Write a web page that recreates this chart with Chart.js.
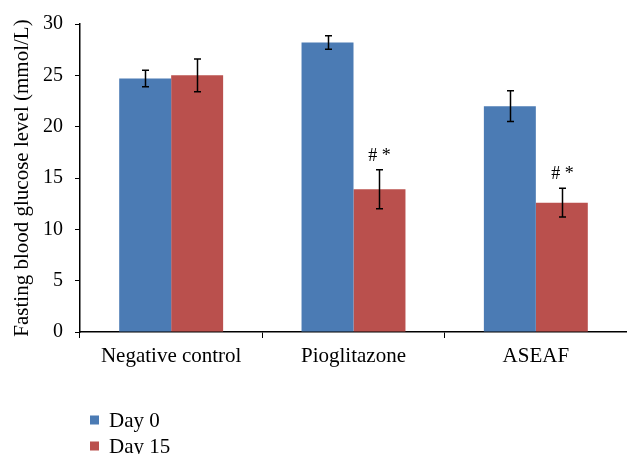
<!DOCTYPE html>
<html><head><meta charset="utf-8">
<script src="https://cdn.jsdelivr.net/npm/chart.js@4/dist/chart.umd.min.js"></script>
<style>html,body{margin:0;padding:0;background:#fff;}#wrap{width:627px;height:454px;}</style>
</head><body><div id="wrap"><canvas id="c" width="627" height="454"></canvas></div>
<script>
const categories = ['Negative control', 'Pioglitazone', 'ASEAF'];
const seriesNames = ['Day 0', 'Day 15'];
const day0 = [24.7, 28.2, 22.0];
const day15 = [25.0, 13.9, 12.6];
const day0Err = [0.8, 0.65, 1.5];
const day15Err = [1.6, 1.9, 1.4];
const day15Marks = ['', '# *', '# *'];
const yTicks = [0, 5, 10, 15, 20, 25, 30];
const colors = ['#4B7BB4', '#BA504D'];
const serif = "'Liberation Serif', 'DejaVu Serif', serif";

const errors = [day0Err, day15Err];
const marks = [['', '', ''], day15Marks];

const extras = {
  id: 'extras',
  afterDatasetsDraw(chart) {
    const ctx = chart.ctx;
    const y = chart.scales.y;
    ctx.save();
    chart.data.datasets.forEach((ds, di) => {
      const meta = chart.getDatasetMeta(di);
      meta.data.forEach((bar, i) => {
        const v = ds.data[i], e = errors[di][i];
        const x = Math.round(bar.x) + 0.5;
        const yt = y.getPixelForValue(v + e), yb = y.getPixelForValue(v - e);
        ctx.strokeStyle = '#000';
        ctx.lineWidth = 1.5;
        ctx.beginPath();
        ctx.moveTo(x, yt); ctx.lineTo(x, yb);
        ctx.moveTo(x - 3.5, yt); ctx.lineTo(x + 3.5, yt);
        ctx.moveTo(x - 3.5, yb); ctx.lineTo(x + 3.5, yb);
        ctx.stroke();
        const m = marks[di][i];
        if (m) {
          ctx.fillStyle = '#000';
          ctx.font = '18px ' + serif;
          ctx.textAlign = 'center';
          ctx.textBaseline = 'alphabetic';
          ctx.fillText(m, x, yt - 9);
        }
      });
    });
    // legend
    ctx.font = '21px ' + serif;
    ctx.textAlign = 'left';
    ctx.textBaseline = 'middle';
    chart.data.datasets.forEach((ds, di) => {
      const ly = 420 + di * 26;
      ctx.fillStyle = ds.backgroundColor;
      ctx.fillRect(90, ly - 4.5, 9, 9);
      ctx.fillStyle = '#000';
      ctx.fillText(ds.label, 109, ly + 1);
    });
    ctx.restore();
  }
};

new Chart(document.getElementById('c'), {
  type: 'bar',
  data: {
    labels: categories,
    datasets: [
      { label: seriesNames[0], data: day0, backgroundColor: colors[0] },
      { label: seriesNames[1], data: day15, backgroundColor: colors[1] }
    ]
  },
  options: {
    responsive: false,
    animation: false,
    devicePixelRatio: 1,
    layout: { padding: { top: 20, right: 0, bottom: 0, left: 0 } },
    plugins: { legend: { display: false }, tooltip: { enabled: false } },
    datasets: { bar: { categoryPercentage: 0.57, barPercentage: 1.0 } },
    scales: {
      x: {
        grid: { display: true, drawOnChartArea: false, offset: true, tickLength: 6, color: '#000', lineWidth: 1 },
        border: { display: true, color: '#000', width: 1.5 },
        ticks: { color: '#000', font: { family: serif, size: 21 }, padding: 6 },
        afterFit(s) { s.height = 122; }
      },
      y: {
        min: 0, max: 30,
        afterBuildTicks(s) { s.ticks = yTicks.map(v => ({ value: v })); },
        grid: { display: true, drawOnChartArea: false, tickLength: 5, color: '#000', lineWidth: 1 },
        border: { display: true, color: '#000', width: 1.5 },
        ticks: { color: '#000', font: { family: serif, size: 20 }, padding: 12 },
        title: { display: true, text: 'Fasting blood glucose level (mmol/L)', color: '#000', font: { family: serif, size: 21 }, padding: { top: 10, bottom: 0 } },
        afterFit(s) { s.width = 80; }
      }
    }
  },
  plugins: [extras]
});
</script></body></html>
